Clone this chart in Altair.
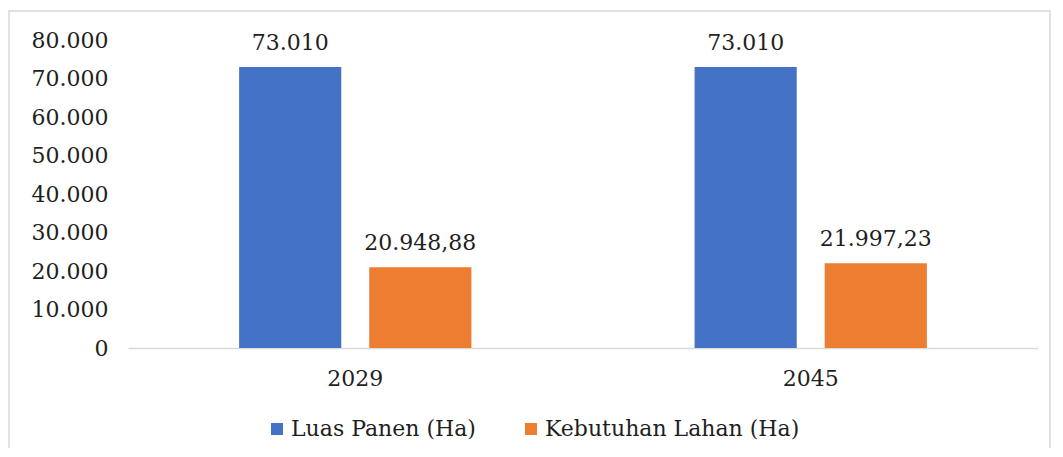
import altair as alt
import pandas as pd

years = ["2029", "2045"]
series = ["Luas Panen (Ha)", "Kebutuhan Lahan (Ha)"]
luas_panen = [73010, 73010]
kebutuhan_lahan = [20948.88, 21997.23]
label_luas = ["73.010", "73.010"]
label_kebutuhan = ["20.948,88", "21.997,23"]
y_ticks = [0, 10000, 20000, 30000, 40000, 50000, 60000, 70000, 80000]

rows = []
for i, yr in enumerate(years):
    rows.append({"year": yr, "series": series[0], "value": luas_panen[i], "label": label_luas[i]})
    rows.append({"year": yr, "series": series[1], "value": kebutuhan_lahan[i], "label": label_kebutuhan[i]})
df = pd.DataFrame(rows)

FONT = "DejaVu Serif"
TXT = "#1f1f1f"

x = alt.X("year:N", title=None, sort=years,
          scale=alt.Scale(paddingInner=0.49, paddingOuter=0.244),
          axis=alt.Axis(labelAngle=0, ticks=False, domainColor="#d9d9d9", domainWidth=1.5,
                        labelFont=FONT, labelFontSize=22, labelColor=TXT, labelPadding=20))
xo = alt.XOffset("series:N", sort=series,
                 scale=alt.Scale(paddingInner=0.215, paddingOuter=0))
y = alt.Y("value:Q", title=None,
          scale=alt.Scale(domain=[0, 80000], nice=False),
          axis=alt.Axis(values=y_ticks, grid=False, ticks=False, domain=False,
                        labelFont=FONT, labelFontSize=22, labelColor=TXT, labelPadding=20,
                        labelExpr="replace(format(datum.value, ','), ',', '.')"))
color = alt.Color("series:N", sort=series,
                  scale=alt.Scale(domain=series, range=["#4472C4", "#ED7D31"]),
                  legend=alt.Legend(title=None, orient="none", legendX=138, legendY=378,
                                    direction="horizontal", symbolType="square",
                                    symbolSize=144, symbolStrokeWidth=0, columnPadding=44,
                                    labelFont=FONT, labelFontSize=22, labelColor=TXT,
                                    labelOffset=3, labelLimit=400))

base = alt.Chart(df)
bars = base.mark_bar().encode(x=x, xOffset=xo, y=y, color=color)
texts = base.mark_text(font=FONT, fontSize=22, color=TXT, dy=-17, baseline="alphabetic").encode(
    x=x, xOffset=xo, y=y, text="label:N")

border = alt.Chart(pd.DataFrame({"a": [0]})).mark_rect(
    fill=None, stroke="#d9d9d9", strokeWidth=1.5).encode(
    x=alt.value(-119), x2=alt.value(922), y=alt.value(-29), y2=alt.value(440))

chart = alt.layer(border, bars, texts).properties(
    width=910, height=308,
    autosize=alt.AutoSizeParams(type="none"),
    padding={"left": 120, "top": 32, "right": 17, "bottom": 100},
    background="white",
).configure_view(stroke=None)

chart.save("out.html", embed_options={"renderer": "svg", "actions": False})
